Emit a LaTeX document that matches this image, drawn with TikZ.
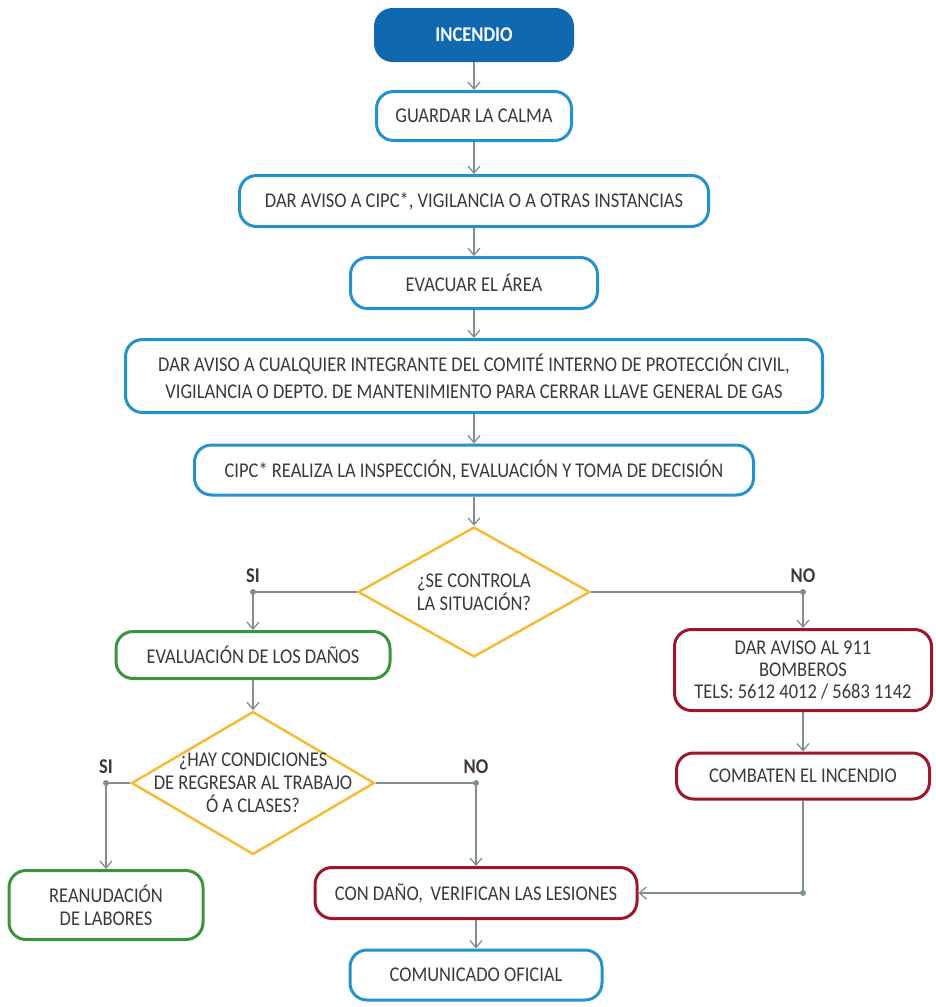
\documentclass[tikz,border=0pt]{standalone}
\usepackage{fontspec}
\setmainfont{Carlito}[FakeStretch=0.88]
\usetikzlibrary{arrows.meta,positioning,shapes.geometric}
\definecolor{azul}{RGB}{16,104,176}
\definecolor{azulclaro}{RGB}{38,146,204}
\definecolor{verde}{RGB}{58,150,58}
\definecolor{rojo}{RGB}{158,22,42}
\definecolor{naranja}{RGB}{246,186,52}
\definecolor{linea}{RGB}{128,142,148}
\definecolor{texto}{RGB}{58,58,58}
\newcommand\letra{\fontsize{21}{23}\selectfont}
\tikzset{
    %Define standard arrow tip
    >={Straight Barb[length=7pt,width=12pt]},
    %Define style for boxes
    caja/.style={
           rectangle,
           rounded corners=17pt,
           draw=azulclaro, line width=3pt,
           fill=white,
           text=texto,
           font=\letra,
           inner sep=2pt,
           align=center},
    %Define style for decisions
    rombo/.style={
           diamond,
           draw=naranja, line width=2.5pt,
           fill=white,
           text=texto,
           font=\letra,
           inner sep=-30pt,
           align=center},
    % Define arrow style
    pil/.style={
           draw=linea,
           line width=1.3pt},
    punto/.style={circle, fill=linea, inner sep=0pt, minimum size=6pt},
    resp/.style={text=texto, font=\bfseries\letra}
}
\begin{document}
\begin{tikzpicture}[x=1pt,y=-1pt]
    \useasboundingbox (0,0) rectangle (935,1007);
    \node (inc) [caja] [fill=azul, draw=azul, text=white, font=\bfseries\letra,
          minimum width=197pt, minimum height=51pt] at (474,35) {INCENDIO};
    \node (calma) [caja] [minimum width=195pt, minimum height=49pt] at (474,116)
          {GUARDAR LA CALMA}
          edge [pil,<-] (inc);
    \node (aviso) [caja] [minimum width=469pt, minimum height=51pt] at (474,201)
          {DAR AVISO A CIPC*, VIGILANCIA O A OTRAS INSTANCIAS}
          edge [pil,<-] (calma);
    \node (evacuar) [caja] [minimum width=247pt, minimum height=51pt] at (474,283)
          {EVACUAR EL ÁREA}
          edge [pil,<-] (aviso);
    \node (integrante) [caja] [minimum width=697pt, minimum height=73pt,
          font=\fontsize{21}{27}\selectfont] at (474,376)
          {DAR AVISO A CUALQUIER INTEGRANTE DEL COMITÉ INTERNO DE PROTECCIÓN CIVIL,\\
           VIGILANCIA O DEPTO. DE MANTENIMIENTO PARA CERRAR LLAVE GENERAL DE GAS}
          edge [pil,<-] (evacuar);
    \node (cipc) [caja] [minimum width=559pt, minimum height=50pt] at (474,470)
          {CIPC* REALIZA LA INSPECCIÓN, EVALUACIÓN Y TOMA DE DECISIÓN}
          edge [pil,<-] (integrante);
    \node (control) [rombo] [minimum width=232pt, minimum height=130pt] at (474,592)
          {¿SE CONTROLA\\ LA SITUACIÓN?}
          edge [pil,<-] (cipc);
    % rama SI
    \node (danos) [caja] [draw=verde, minimum width=274pt, minimum height=47pt] at (253,655)
          {EVALUACIÓN DE LOS DAÑOS};
    \node (regresar) [rombo] [minimum width=243pt, minimum height=143pt] at (253,783)
          {¿HAY CONDICIONES\\ DE REGRESAR AL TRABAJO\\ Ó A CLASES?}
          edge [pil,<-] (danos);
    \node (reanudar) [caja] [draw=verde, minimum width=194pt, minimum height=69pt] at (106,905)
          {REANUDACIÓN\\ DE LABORES};
    \node (lesiones) [caja] [draw=rojo, minimum width=322pt, minimum height=51pt] at (476,893)
          {CON DAÑO,\, VERIFICAN LAS LESIONES};
    \node (comunicado) [caja] [minimum width=252pt, minimum height=50pt] at (476,975)
          {COMUNICADO OFICIAL}
          edge [pil,<-] (lesiones);
    % rama NO
    \node (bomberos) [caja] [draw=rojo, minimum width=257pt, minimum height=81pt,
          font=\fontsize{21}{22}\selectfont] at (803,670)
          {DAR AVISO AL 911\\ BOMBEROS\\ TELS: 5612 4012 / 5683 1142};
    \node (combaten) [caja] [draw=rojo, minimum width=253pt, minimum height=46pt] at (803,776)
          {COMBATEN EL INCENDIO}
          edge [pil,<-] (bomberos);
    % uniones
    \coordinate (si1) at (danos.north |- control.west);
    \coordinate (no1) at (bomberos.north |- control.east);
    \coordinate (si2) at (reanudar.north |- regresar.west);
    \coordinate (no2) at (lesiones.north |- regresar.east);
    \coordinate (vuelta) at (combaten.south |- lesiones.east);
    \draw [pil] (control.west) -- (si1);
    \draw [pil,->] (si1) -- (danos.north);
    \draw [pil] (control.east) -- (no1);
    \draw [pil,->] (no1) -- (bomberos.north);
    \draw [pil] (regresar.west) -- (si2);
    \draw [pil,->] (si2) -- (reanudar.north);
    \draw [pil] (regresar.east) -- (no2);
    \draw [pil,->] (no2) -- (lesiones.north);
    \draw [pil] (combaten.south) -- (vuelta);
    \draw [pil,->] (vuelta) -- (lesiones.east);
    \foreach \p in {si1,no1,si2,no2,vuelta}
      \node [punto] at (\p) {};
    \node (etsi1) [resp] [above=6pt of si1] {SI};
    \node (etno1) [resp] [above=6pt of no1] {NO};
    \node (etsi2) [resp] [above=6pt of si2] {SI};
    \node (etno2) [resp] [above=6pt of no2] {NO};
\end{tikzpicture}
\end{document}
